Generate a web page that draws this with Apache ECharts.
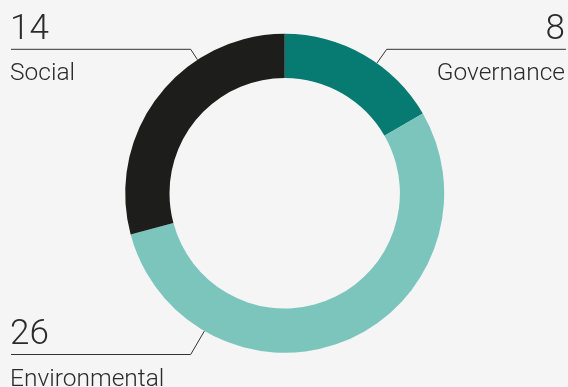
<!DOCTYPE html>
<html>
<head>
<meta charset="utf-8">
<script src="https://cdn.jsdelivr.net/npm/echarts@6/dist/echarts.min.js"></script>
<style>
html,body{margin:0;padding:0;background:#f5f5f5;}
#c{width:568px;height:387px;}
</style>
</head>
<body>
<div id="c"></div>
<script>
const categories = ['Governance', 'Environmental', 'Social'];
const values = [8, 26, 14];
const colors = ['#077a71', '#7cc5bd', '#1d1d1b'];

// label layout (side / row per category)
const labelSide = ['right', 'left', 'left'];
const labelLineY = [49.3, 354.5, 49.3];

const CX = 284.7, CY = 193.3, R_IN = 115.2, R_OUT = 159.5;
const W = 568;

const chart = echarts.init(document.getElementById('c'), null, {renderer: 'canvas'});

chart.setOption({
  backgroundColor: '#f5f5f5',
  animation: false,
  series: [{
    type: 'pie',
    center: [CX, CY],
    radius: [R_IN, R_OUT],
    startAngle: 90,
    clockwise: true,
    avoidLabelOverlap: false,
    data: categories.map((name, i) => ({name, value: values[i], itemStyle: {color: colors[i]}})),
    label: {
      show: true,
      position: 'outside',
      formatter: '{n|{c}}\n{t|{b}}',
      color: '#2b2b2b',
      fontFamily: 'Roboto',
      fontWeight: 300,
      rich: {
        n: {fontSize: 35, lineHeight: 42, fontFamily: 'Roboto', fontWeight: 300, color: '#2b2b2b'},
        t: {fontSize: 24.5, lineHeight: 46, fontFamily: 'Roboto', fontWeight: 300, color: '#2b2b2b'}
      }
    },
    labelLine: {
      show: true,
      length: 10,
      length2: 10,
      lineStyle: {color: '#333333', width: 1}
    },
    labelLayout: function (p) {
      const i = p.dataIndex;
      const side = labelSide[i];
      const ly = labelLineY[i];
      const ex = side === 'left' ? CX - 94 : CX + 102;
      const dx = ex - CX, dy = ly - CY;
      const d = Math.sqrt(dx * dx + dy * dy);
      const sx = CX + dx / d * R_OUT, sy = CY + dy / d * R_OUT;
      const endX = side === 'left' ? 11 : W - 2;
      return {
        x: side === 'left' ? 10 : W - 3,
        y: ly - 40,
        align: side,
        verticalAlign: 'top',
        labelLinePoints: [[sx, sy], [ex, ly], [endX, ly]]
      };
    }
  }]
});
</script>
</body>
</html>
